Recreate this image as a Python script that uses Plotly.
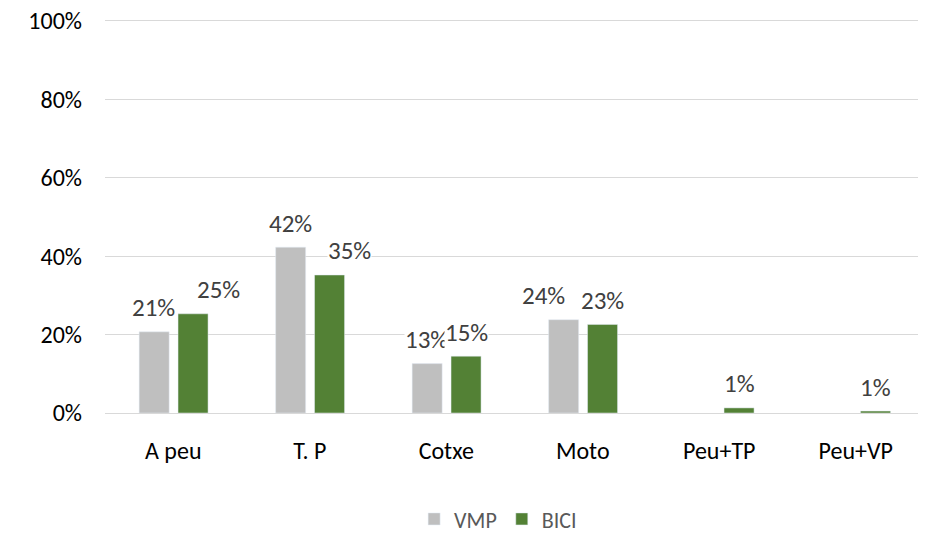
import plotly.graph_objects as go

categories = ["A peu", "T. P", "Cotxe", "Moto", "Peu+TP", "Peu+VP"]
vmp = [0.207, 0.423, 0.126, 0.238, None, None]
bici = [0.253, 0.352, 0.145, 0.226, 0.013, 0.005]
vmp_labels = ["21%", "42%", "13%", "24%", None, None]
bici_labels = ["25%", "35%", "15%", "23%", "1%", "1%"]
tick_vals = [0, 0.2, 0.4, 0.6, 0.8, 1.0]
tick_text = ["0%", "20%", "40%", "60%", "80%", "100%"]

# label nudges (px) to mimic the original label placement
vmp_label_dx = [0, 0, 0, -20, 0, 0]
bici_label_dx = [25, 20, 0, 0, 0, 0]

GREY = "#bfbfbf"
GREEN = "#538135"
FONT = "Calibri, Carlito, Lato, sans-serif"

fig = go.Figure()
fig.add_trace(go.Bar(name="VMP", x=categories, y=vmp, marker_color=GREY,
                     width=0.22, offset=-0.25, hoverinfo="skip"))
fig.add_trace(go.Bar(name="BICI", x=categories, y=bici, marker_color=GREEN,
                     width=0.22, offset=0.035, hoverinfo="skip"))

annotations = []
for series, labels, dxs, base_dx in [(vmp, vmp_labels, vmp_label_dx, -19.5),
                                      (bici, bici_labels, bici_label_dx, 20)]:
    for c, v, t, dx in zip(categories, series, labels, dxs):
        if v is None or t is None:
            continue
        annotations.append(dict(
            x=c, y=v, xref="x", yref="y", text=t, showarrow=False,
            xshift=base_dx + dx, yshift=24, yanchor="middle",
            bgcolor="white", borderpad=0,
            font=dict(family=FONT, size=25, color="#404040")))

fig.update_layout(
    width=926, height=534,
    margin=dict(l=97, r=10, t=9, b=129, autoexpand=False),
    paper_bgcolor="white", plot_bgcolor="white",
    barmode="overlay",
    font=dict(family=FONT, size=24, color="#000000"),
    showlegend=True,
    legend=dict(orientation="h", x=0.48, xanchor="center", xref="paper",
                y=-0.268, yanchor="middle",
                font=dict(family=FONT, size=22, color="#595959"),
                itemwidth=30, traceorder="normal"),
    annotations=annotations,
    yaxis=dict(range=[0, 1.01], tickvals=tick_vals, ticktext=tick_text,
               showgrid=True, gridcolor="#d9d9d9", gridwidth=1,
               zeroline=False, showline=False, ticks="",
               ticklabelstandoff=22, ticklabeloverflow="allow",
               tickfont=dict(family=FONT, size=24, color="#000000")),
    xaxis=dict(showline=True, linecolor="#d9d9d9", linewidth=1,
               ticks="", showgrid=False,
               ticklabelstandoff=16,
               tickfont=dict(family=FONT, size=24, color="#000000")),
)

fig.write_html("out.html")
